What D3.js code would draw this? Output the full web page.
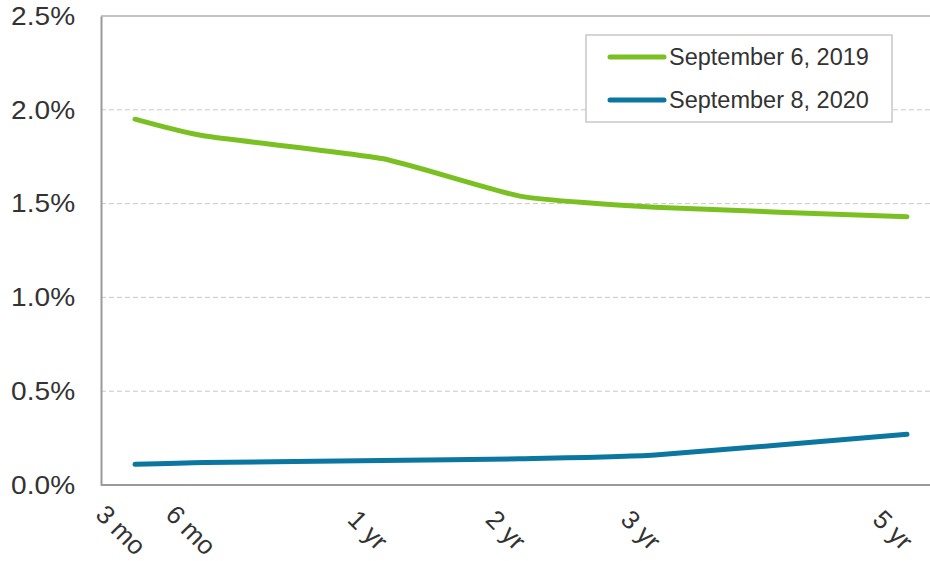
<!DOCTYPE html>
<html>
<head>
<meta charset="utf-8">
<script src="https://cdn.jsdelivr.net/npm/d3@7"></script>
<style>
  body { margin: 0; background: #fff; }
  svg { display: block; font-family: "Liberation Sans", Arial, sans-serif; }
</style>
</head>
<body>
<div id="chart"></div>
<script>
// Treasury yields by maturity (months), percent
const maturities = [3, 6, 12, 24, 36, 60];
const tickLabels = ['3 mo', '6 mo', '1 yr', '2 yr', '3 yr', '5 yr'];
const seriesNames = ['September 6, 2019', 'September 8, 2020'];
const sep2019 = [1.95, 1.86, 1.74, 1.54, 1.48, 1.43];
const sep2020 = [0.11, 0.12, 0.13, 0.14, 0.16, 0.27];
const yTicks = [0, 0.5, 1.0, 1.5, 2.0, 2.5];

const width = 930;
const height = 561;
const margin = { top: 16, right: -12, bottom: 76, left: 101 };
const colors = ['#7bc023', '#0b76a0'];

const svg = d3.select('#chart').append('svg')
  .attr('width', width)
  .attr('height', height);

// maturity axis is unevenly spaced in the source chart
const x = d3.scaleLinear()
  .domain(maturities)
  .range([34, 104, 281, 419, 554, 806].map(d => d + margin.left));

const y = d3.scaleLinear()
  .domain([0, 2.5])
  .range([height - margin.bottom, margin.top]);

const plotRight = width - margin.right;

// gridlines
svg.append('g')
  .selectAll('line')
  .data(yTicks.filter(d => d > 0 && d < 2.5))
  .join('line')
  .attr('x1', margin.left)
  .attr('x2', plotRight)
  .attr('y1', d => y(d))
  .attr('y2', d => y(d))
  .attr('stroke', '#c9c9c9')
  .attr('stroke-width', 1)
  .attr('stroke-dasharray', '5,3');

// plot frame top
svg.append('line')
  .attr('x1', margin.left)
  .attr('x2', plotRight)
  .attr('y1', y(2.5))
  .attr('y2', y(2.5))
  .attr('stroke', '#c4c4c4')
  .attr('stroke-width', 2);

// y axis
const yAxis = svg.append('g')
  .attr('transform', `translate(${margin.left},0)`)
  .call(d3.axisLeft(y).tickValues(yTicks).tickSize(0).tickPadding(24)
    .tickFormat(d => d.toFixed(1) + '%'));
yAxis.select('.domain').attr('stroke', '#9a9a9a').attr('stroke-width', 2);
yAxis.selectAll('text')
  .attr('font-size', 26)
  .attr('fill', '#333')
  .attr('font-family', '"Liberation Sans", Arial, sans-serif')
  .attr('transform', 'scale(1.08,1)');

// x axis
const xAxis = svg.append('g')
  .attr('transform', `translate(0,${y(0)})`)
  .call(d3.axisBottom(x).tickValues(maturities).tickSize(0).tickFormat(''));
xAxis.select('.domain')
  .attr('d', `M${margin.left},0H${plotRight}`)
  .attr('stroke', '#9a9a9a')
  .attr('stroke-width', 2);

svg.append('g')
  .selectAll('text')
  .data(maturities)
  .join('text')
  .attr('transform', (d, i) => `translate(${x(d) - 14},${y(0) + 45}) rotate(45)`)
  .attr('text-anchor', 'middle')
  .attr('dominant-baseline', 'central')
  .attr('font-size', 26)
  .attr('fill', '#333')
  .text((d, i) => tickLabels[i]);

// lines
const line = d3.line()
  .x((d, i) => x(maturities[i]))
  .y(d => y(d))
  .curve(d3.curveCardinal.tension(0.5));

svg.append('g')
  .selectAll('path')
  .data([sep2019, sep2020])
  .join('path')
  .attr('d', d => line(d))
  .attr('fill', 'none')
  .attr('stroke', (d, i) => colors[i])
  .attr('stroke-width', 5)
  .attr('stroke-linecap', 'round')
  .attr('stroke-linejoin', 'round');

// legend
const legend = svg.append('g').attr('transform', 'translate(586,35)');
legend.append('rect')
  .attr('width', 306)
  .attr('height', 87)
  .attr('fill', '#fff')
  .attr('stroke', '#c8c8c8')
  .attr('stroke-width', 1.5);

const item = legend.selectAll('g.item')
  .data(seriesNames)
  .join('g')
  .attr('class', 'item')
  .attr('transform', (d, i) => `translate(0,${22 + i * 43})`);
item.append('line')
  .attr('x1', 24)
  .attr('x2', 78)
  .attr('stroke', (d, i) => colors[i])
  .attr('stroke-width', 5)
  .attr('stroke-linecap', 'round');
item.append('text')
  .attr('x', 83)
  .attr('dy', '0.35em')
  .attr('font-size', 23.5)
  .attr('fill', '#333')
  .text(d => d);
</script>
</body>
</html>
